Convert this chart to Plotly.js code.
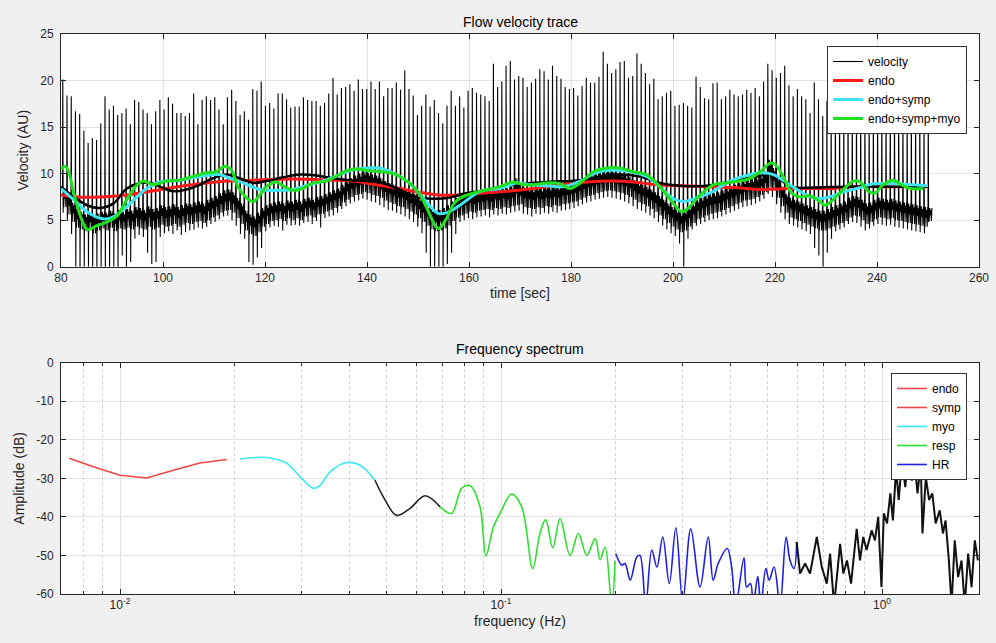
<!DOCTYPE html>
<html><head><meta charset="utf-8">
<script src="https://cdn.plot.ly/plotly-3.0.1.min.js"></script>
<style>html,body{margin:0;padding:0;background:#f0f0f0}#chart{width:996px;height:643px}</style>
</head><body><div id="chart"></div>
<script>
// ---------- Top panel: flow velocity trace ----------
// per-beat peak velocity (AU)
const beatPeaks = [
20.1,18.4,18.3,16.7,16.4, 14.6,13.3,13.8,13.6,15.4, 18.3,16.9,17.3,16.3,16.5, 17.0,15.3,17.9,17.7,16.9,
16.5,15.3,16.7,17.9,16.9, 18.2,17.5,16.5,16.5,16.2, 16.5,18.6,15.3,17.9,18.3, 17.9,18.2,16.9,15.3,18.2,
19.0,17.8,16.3,16.7,15.8, 19.1,18.9,19.9,17.3,17.6, 17.0,18.6,18.6,18.0,17.1, 17.2,17.2,18.2,17.9,17.8,
17.8,17.3,17.6,18.6,20.3, 18.5,19.2,19.3,19.6,18.9, 20.1,19.1,19.1,19.9,19.1, 19.9,18.3,19.2,19.2,19.8,
19.0,21.1,19.1,18.4,16.3, 17.3,18.5,17.2,17.9,16.5, 15.4,17.3,18.9,17.3,18.3, 17.1,18.9,19.2,18.7,18.5,
18.3,17.8,21.8,19.3,19.9, 21.6,
22.1,20.1,20.5,20.3,19.3, 19.8,20.2,21.2,21.0,20.1, 21.6,20.5,20.2,19.3,19.1, 19.2,18.4,19.4,20.3,19.8,
19.8,20.4,23.1,21.8,20.8, 21.2,22.0,22.1,20.3,20.5, 22.9,21.8,20.8,19.6,20.2, 18.0,18.3,18.7,18.9,17.3,
17.4,17.6,17.3,17.1,20.4, 19.3,18.1,18.0,19.7,19.8, 18.0,18.3,19.0,18.5,18.3, 18.5,19.0,18.7,19.2,18.3,
19.9,21.8,21.1,20.3,20.8, 21.6,19.5,18.3,19.1,18.3, 18.0,16.5,19.8,18.0,16.2,
17.8,17.2,18.4,17.6,16.9, 18.1,17.5,17.0,18.3,17.7, 16.8,17.9,17.4,18.0,17.1, 16.9,17.6,18.2,17.3,16.8,
17.5,17.0,17.7,16.9,17.2
];
// upper edge of the dense noisy band, per beat
const bandTops = [
8.4,7.8,6.9,6.2,5.9, 5.6,5.8,5.5,5.7,5.9, 5.8,6.0,5.7,6.1,5.9, 6.2,6.0,6.4,6.3,6.1,
6.5,6.2,6.3,6.6,6.4, 6.5,6.7,6.4,6.6,6.8, 6.7,6.9,7.0,6.8,7.2, 7.4,7.6,7.9,8.2,8.3,
8.0,7.4,6.8,6.0,5.6, 5.4,5.8,6.3,6.6,6.8, 6.9,7.0,6.8,7.1,7.0, 7.2,7.0,7.3,7.4,7.2,
7.5,7.6,7.8,8.0,8.2, 8.4,8.8,9.2,9.5,9.8, 10.0,10.2,10.1,9.9,9.8, 9.5,9.2,9.0,8.8,8.6,
8.5,8.3,8.0,7.8,7.4, 7.0,6.6,6.2,6.0,6.1, 6.3,6.6,7.0,7.4,7.6, 7.8,8.0,7.9,8.1,8.2,
8.3,8.2,8.4,8.3,8.5, 8.4,8.6,9.5,8.8,8.5, 8.4,8.3,8.5,8.4,8.6, 8.5,8.7,8.6,8.8,8.9,
9.0,9.1,9.3,9.5,9.7, 9.8,10.0,10.1,10.2,10.3, 10.2,10.1,10.0,9.8,9.6, 9.3,9.0,8.8,8.6,8.3,
8.0,7.6,7.2,6.8,6.4, 6.1,5.8,6.0,6.4,6.8, 7.2,7.4,7.6,7.8,7.9, 8.0,8.2,8.4,8.6,8.8,
9.0,9.2,9.3,9.4,9.6, 9.8,10.2,11.5,10.6,9.6, 8.6,7.8,7.4,7.2,7.0, 6.8,6.6,6.4,6.2,6.0,
6.0,6.2,6.4,6.6,6.8, 7.0,7.4,7.6,7.5,7.2, 6.8,6.9,7.2,7.4,7.3, 7.2,7.3,7.1,7.0,6.9,
6.8,6.7,6.6,6.5,6.4,6.3
];
// lower edge of the dense band, per beat
const bandLows = [
6.4,5.6,4.8,4.2,4.0, 3.8,4.0,3.6,3.9,4.1, 3.9,4.2,3.8,4.1,4.0, 4.2,4.0,4.3,4.1,4.0,
4.3,4.0,4.2,4.5,4.3, 4.4,4.6,4.3,4.5,4.7, 4.6,4.8,4.9,4.7,5.0, 5.3,5.5,5.8,6.0,6.1,
5.8,5.2,4.6,3.9,3.5, 3.3,3.7,4.3,4.6,4.9, 5.0,5.1,4.9,5.2,5.0, 5.2,5.0,5.4,5.5,5.3,
5.6,5.7,5.9,6.1,6.3, 6.5,6.9,7.2,7.5,7.7, 7.8,8.0,7.9,7.7,7.6, 7.4,7.1,6.9,6.7,6.5,
6.4,6.2,5.9,5.6,5.2, 4.8,4.4,4.0,3.8,3.9, 4.1,4.4,4.9,5.3,5.5, 5.7,5.9,5.8,6.0,6.1,
6.2,6.1,6.3,6.2,6.4, 6.3,6.5,6.6,6.7,6.4, 6.3,6.2,6.4,6.3,6.5, 6.4,6.6,6.5,6.7,6.8,
6.9,7.0,7.2,7.4,7.6, 7.7,7.9,8.0,8.1,8.2, 8.1,8.0,7.9,7.7,7.5, 7.2,6.9,6.7,6.5,6.2,
5.9,5.5,5.1,4.7,4.3, 4.0,3.7,3.9,4.3,4.7, 5.1,5.3,5.5,5.7,5.8, 5.9,6.1,6.3,6.5,6.7,
6.9,7.1,7.2,7.3,7.5, 7.7,8.0,8.5,8.2,7.4, 6.5,5.8,5.3,5.1,4.9, 4.7,4.5,4.3,4.1,3.9,
3.9,4.1,4.3,4.5,4.7, 4.9,5.3,5.5,5.4,5.0, 4.6,4.8,5.1,5.3,5.2, 5.1,5.2,5.0,4.9,4.8,
4.7,4.6,4.5,4.4,4.3,4.9
];
// deepest point of each beat (signal dropouts go to 0)
const beatFloors = [
5.8,4.9,3.5,0.0,0.0, 0.0,0.0,0.0,0.0,0.0, 0.0,0.0,0.0,0.0,1.2, 0.0,0.5,3.0,3.4,3.2,
1.5,0.3,0.5,3.2,3.6, 3.8,3.5,3.9,3.4,3.7, 3.9,4.0,4.2,4.1,4.3, 4.6,4.8,5.1,5.4,5.5,
5.0,4.4,3.5,3.0,0.5, 0.2,1.0,2.0,3.8,4.2, 4.4,4.3,3.9,4.5,4.4, 4.5,4.4,4.7,4.8,4.6,
4.9,4.2,5.2,5.4,5.5, 5.8,6.2,6.5,6.8,7.0, 7.1,7.3,7.2,7.0,6.9, 6.6,6.4,6.1,6.0,5.8,
5.6,5.4,5.1,4.8,4.3, 3.6,1.5,0.0,0.0,0.0, 0.0,0.3,1.5,3.5,4.8, 5.0,5.2,5.1,5.3,5.4,
5.5,5.3,5.6,5.5,5.7, 5.6,5.8,5.9,6.0,5.7, 5.6,5.4,5.7,5.6,5.8, 5.7,5.9,5.8,6.0,6.1,
6.2,6.3,6.5,6.7,6.9, 7.0,7.2,7.3,7.4,7.5, 7.4,7.3,7.2,7.0,6.8, 6.5,6.2,6.0,5.8,5.5,
5.2,4.8,4.4,4.0,3.6, 3.3,2.5,0.0,3.0,4.0, 4.4,4.6,4.8,5.0,5.1, 5.2,5.4,5.6,5.8,6.0,
6.2,6.4,6.5,6.6,6.8, 7.0,7.3,7.8,7.5,6.7, 5.8,5.1,4.6,4.4,4.2, 4.0,3.8,3.5,2.0,1.2,
0.0,1.5,3.0,3.8,4.0, 4.2,4.6,4.8,4.7,4.3, 3.9,4.1,4.4,4.6,4.5, 4.4,4.5,4.3,4.2,4.1,
4.0,3.9,3.8,3.7,3.6,4.8
];
const firstBeatTime = 80.3, lastBeatTime = 250.0;

const endoT = [80,83.1,87.7,92.9,97.5,102,107.2,112.4,117.7,122.9,128.1,133.3,137.2,141.8,146.3,150.2,154.1,158,162.2,167.4,172.6,177.8,183.1,188.3,192.2,196.8,201.4,206.6,211.8,217.7,222.3,227.5,231.4,235.4,240.6,245,250];
const endoV = [7.7,7.5,7.5,7.7,8.1,8.5,8.9,9.2,9.3,9.4,9.4,9.3,9.2,8.8,8.4,8.0,7.7,7.7,7.9,8.1,8.4,8.8,9.1,9.2,9.1,8.8,8.7,8.6,8.5,8.3,8.4,8.4,8.4,8.6,8.6,8.6,8.6];

const sympT = [80,82.5,85.1,87.7,89.6,92.2,94.9,96.8,99.4,103.3,107.2,111.1,113.1,115.7,119,122.2,125.5,128.7,132,134.6,137.2,139.8,142.4,145,147.6,150.2,152.2,154.1,156.1,158.7,162.2,166.1,169.4,172,175.2,178.5,181.8,185,188.3,191.6,194.8,197.4,200.1,202,204.6,207.9,211.2,214.4,217.1,219.7,222.3,224.9,227.5,230.1,232.8,236,239.3,243.2,247.1,250];
const sympV = [8.4,7.2,5.9,5.2,5.2,6.1,7.5,8.4,9.1,9.3,9.7,9.9,9.5,9.0,8.3,8.2,8.3,8.8,9.3,9.9,10.4,10.6,10.6,10.1,9.3,7.9,6.6,5.7,5.9,6.8,8.1,8.4,9.0,8.8,8.7,8.6,9.2,10.1,10.4,10.2,9.7,8.6,7.3,7.0,7.4,8.1,9.2,9.8,10.1,9.9,9.0,8.1,7.4,7.4,7.9,8.4,8.9,8.9,8.8,8.7];

const myoT = [80,80.8,81.5,82.5,84.1,85.2,87,89,90.9,92.9,94.9,96.2,98.1,100.7,103.3,105.9,108.5,110.5,112.1,113.4,114.7,116.4,117.7,119,120.3,122.2,123.8,125.5,127.4,129.4,132,133.9,135.9,137.9,140.5,143.1,145.7,148.3,150.2,151.9,153.5,154.1,155.4,157.1,158.7,162.2,166.1,168.7,170.7,172.6,175.2,177.9,179.8,181.8,184.4,187,189.6,192.2,194.8,197.4,200.1,201.7,203,205.3,207.9,210.5,213.1,215.1,217.1,219,220,221.6,223.3,224.9,226.9,228.8,229.8,231.4,233.4,235.4,236.7,238.3,239.6,241.2,243.2,244.8,246.5,249.1];
const myoV = [10.4,10.8,10.2,7.9,5.0,4.0,4.4,4.8,5.4,7.2,8.8,9.2,8.8,9.2,9.3,9.7,10.1,10.2,10.8,10.4,8.6,7.4,7.0,7.7,8.6,9.1,8.6,8.2,8.4,9.0,9.2,9.7,10.3,10.5,10.3,10.2,9.9,9.0,7.9,6.1,4.3,4.1,5.0,6.8,7.5,8.1,8.6,9.1,8.8,8.8,9.0,8.9,8.4,9.0,10.2,10.6,10.6,10.2,9.9,8.6,6.8,5.9,6.3,7.7,8.8,9.0,9.2,9.5,10.2,11.1,11.0,9.7,7.9,7.5,7.6,7.0,6.6,7.2,8.3,9.2,9.1,8.1,7.9,8.8,9.3,8.8,8.4,8.4];

const meanT = [80,82.5,85.1,87.7,90.3,92.9,95.5,97.5,99.4,102,104.6,107.2,109.8,112.4,115,117.7,120.3,123.5,126.8,130,133.3,136.5,139.8,143.1,146.3,149.6,152.8,156.1,159.3,163.3,168.7,175.2,181.8,188.3,193.5,197.4,201.4,206.6,211.8,216.4,219.7,223,227.5,234,240.6,250];
const meanV = [8.6,7.5,6.6,6.3,6.8,8.4,9.0,9.0,8.6,8.1,8.3,8.8,9.5,9.9,9.5,9.0,9.2,9.6,9.9,9.8,9.5,9.3,9.2,9.0,8.3,7.5,7.3,7.4,7.9,8.2,8.8,9.1,9.3,9.9,9.7,9.0,8.7,8.7,9.2,9.7,9.9,8.6,8.5,8.6,8.6,8.6];

// ---------- Bottom panel: frequency spectrum ----------
const endoF = [0.00736,0.00851,0.0100,0.01175,0.0138,0.0162,0.01905];
const endoDB = [-24.8,-27.0,-29.2,-29.9,-27.9,-26.0,-25.1];
const myoF = [0.02065,0.0243,0.0274,0.0297,0.0322,0.0335,0.0356,0.0394,0.0427,0.0467];
const myoDB = [-25.0,-24.6,-26.1,-29.6,-32.6,-31.8,-28.3,-25.9,-26.6,-30.5];
const gapF = [0.0467,0.0491,0.0532,0.0577,0.0632,0.0692];
const gapDB = [-30.5,-34.8,-39.6,-37.8,-34.5,-37.4];
const respF = [0.0692,0.0742,0.0788,0.0830,0.0881,0.0913,0.0955,0.0994,0.1066,0.1133,0.1211,0.1265,0.1310,0.1367,0.1429,0.1518,0.1596,0.1679,0.1766,0.1820,0.1876,0.1953,0.1992];
const respDB = [-37.4,-39.1,-32.6,-31.9,-37.4,-50.1,-42.6,-39.1,-34.1,-37.4,-53.4,-44.3,-40.7,-48.0,-40.4,-50.0,-44.3,-50.0,-45.7,-51.1,-47.8,-63,-51.3];
const hrF = [0.2000,0.2075,0.2116,0.2183,0.2272,0.2316,0.2397,0.2487,0.2565,0.2658,0.2765,0.2877,0.2999,0.3148,0.3330,0.3498,0.3605,0.3715,0.3924,0.4030,0.4128,0.4343,0.4414,0.4518,0.4589,0.4720,0.4806,0.4955,0.5055,0.5209,0.5399,0.5600,0.5736,0.5876,0.5971];
const hrDB = [-49.5,-52.5,-52.1,-56.4,-50.4,-50.0,-63,-48.6,-53.0,-45.2,-57.3,-42.8,-62,-43.1,-58.2,-45.2,-56.4,-52.1,-48.2,-53.0,-63,-50.6,-58.2,-57.3,-63,-55.4,-63,-53.4,-56.4,-53.0,-63,-45.2,-51.3,-53.4,-46.5];
const cardF = [0.5971,0.6095,0.6281,0.6473,0.6742,0.6950,0.7162,0.7306,0.7485,0.7762,0.7916,0.8093,0.8293,0.8580,0.8753,0.8930,0.9109,0.9395,0.9581,0.9773,0.9966,1.0108,1.0310,1.0516,1.068,1.089,1.106,1.128,1.151,1.174,1.198,1.215,1.239,1.264,1.277,1.303,1.329,1.355,1.383,1.417,1.445,1.468,1.498,1.522,1.552,1.584,1.617,1.649,1.683,1.718,1.752,1.785];
const cardDB = [-46.5,-54.7,-52.1,-54.7,-45.2,-53.0,-57.3,-49.5,-63,-47.0,-54.7,-51.3,-57.3,-43.1,-51.3,-45.2,-48.6,-43.5,-46.1,-40.0,-58.2,-39.1,-41.7,-33.9,-40.9,-27.4,-35.6,-25.4,-32.3,-22.7,-30.6,-24.6,-33.9,-26.2,-44.3,-29.7,-35.6,-33.9,-41.7,-38.3,-44.3,-40.9,-51.3,-63,-46.1,-55.6,-51.3,-63,-49.5,-58.2,-46.1,-51.3];

const topXTicks = [80,100,120,140,160,180,200,220,240,260];
const topYTicks = [0,5,10,15,20,25];
const dbTickVals = [0,-10,-20,-30,-40,-50,-60];
const dbTickText = ['0','-10','-20','-30','-40','-50','-60'];
const logTickVals = [0.01,0.1,1];
const logTickText = ['10<sup>-2</sup>','10<sup>-1</sup>','10<sup>0</sup>'];

// build the velocity waveform from the per-beat readings:
// systolic spike, then a ragged noisy band between the band's lower and upper edge
const nBeats = beatPeaks.length;
const rr = (lastBeatTime - firstBeatTime) / (nBeats - 1);
const bandPhases = [0.24, 0.34, 0.45, 0.55, 0.67, 0.77];
const bandLevels = [0, 1, 0.45, 0.85, 0, 1];   // fraction of the band height at each phase
const velX = [], velY = [];
for (let i = 0; i < nBeats; i++) {
  const t = firstBeatTime + i * rr;
  velX.push(t, t + 0.05, t + 0.12, t + 0.16);
  velY.push(bandTops[i], beatPeaks[i], beatFloors[i], bandTops[i]);
  bandPhases.forEach((p, k) => {
    velX.push(t + p);
    velY.push(bandLows[i] + bandLevels[k] * (bandTops[i] - bandLows[i]));
  });
}

const minorVals = [];
[0.001,0.01,0.1,1].forEach(d => { for (let k = 2; k <= 9; k++) minorVals.push(d * k); });

const RED = '#ff1a1a', CYAN = '#3fe4f2', GREEN = '#1fe01f';
const traces = [
  {x: velX, y: velY, name: 'velocity', mode: 'lines', line: {color: '#000', width: 1.1, simplify: false}, xaxis: 'x', yaxis: 'y', legend: 'legend'},
  {x: endoT, y: endoV, name: 'endo', mode: 'lines', line: {color: RED, width: 3, shape: 'spline'}, xaxis: 'x', yaxis: 'y', legend: 'legend'},
  {x: meanT, y: meanV, name: 'mean', showlegend: false, mode: 'lines', line: {color: '#000', width: 2.5, shape: 'spline'}, xaxis: 'x', yaxis: 'y'},
  {x: sympT, y: sympV, name: 'endo+symp', mode: 'lines', line: {color: CYAN, width: 3, shape: 'spline'}, xaxis: 'x', yaxis: 'y', legend: 'legend'},
  {x: myoT, y: myoV, name: 'endo+symp+myo', mode: 'lines', line: {color: GREEN, width: 3, shape: 'spline'}, xaxis: 'x', yaxis: 'y', legend: 'legend'},

  {x: endoF, y: endoDB, name: 'endo', mode: 'lines', line: {color: '#f04545', width: 1.6}, xaxis: 'x2', yaxis: 'y2', legend: 'legend2'},
  {x: [null], y: [null], name: 'symp', mode: 'lines', line: {color: '#f04545', width: 1.6}, xaxis: 'x2', yaxis: 'y2', legend: 'legend2'},
  {x: myoF, y: myoDB, name: 'myo', mode: 'lines', line: {color: '#3ee8f2', width: 1.6, shape: 'spline'}, xaxis: 'x2', yaxis: 'y2', legend: 'legend2'},
  {x: gapF, y: gapDB, name: 'other', showlegend: false, mode: 'lines', line: {color: '#222', width: 1.6, shape: 'spline'}, xaxis: 'x2', yaxis: 'y2'},
  {x: respF, y: respDB, name: 'resp', mode: 'lines', line: {color: '#2ee02e', width: 1.6, shape: 'spline'}, xaxis: 'x2', yaxis: 'y2', legend: 'legend2'},
  {x: hrF, y: hrDB, name: 'HR', mode: 'lines', line: {color: '#2020e0', width: 1.6, shape: 'spline'}, xaxis: 'x2', yaxis: 'y2', legend: 'legend2'},
  {x: cardF, y: cardDB, name: 'cardiac', showlegend: false, mode: 'lines', line: {color: '#111', width: 2}, xaxis: 'x2', yaxis: 'y2'}
];

const FONT = 'Liberation Sans, Arial, sans-serif';
const axisBase = {
  showline: true, mirror: 'ticks', linecolor: '#262626', linewidth: 1,
  ticks: 'inside', ticklen: 5, tickcolor: '#262626',
  gridcolor: '#e2e2e2', zeroline: false,
  tickfont: {family: FONT, size: 12, color: '#262626'}
};
const xDom = [61/996, 979/996];
const layout = {
  width: 996, height: 643,
  paper_bgcolor: '#f0f0f0', plot_bgcolor: '#ffffff',
  margin: {l: 0, r: 0, t: 0, b: 0},
  font: {family: FONT, color: '#262626'},
  xaxis: Object.assign({}, axisBase, {domain: xDom, range: [80, 260], tickmode: 'array', tickvals: topXTicks, anchor: 'y',
    title: {text: 'time [sec]', font: {size: 14, color: '#262626'}, standoff: 4}}),
  yaxis: Object.assign({}, axisBase, {domain: [(643-266.7)/643, (643-34)/643], range: [0, 25], tickmode: 'array', tickvals: topYTicks, anchor: 'x',
    ticklabelstandoff: 4,
    title: {text: 'Velocity (AU)', font: {size: 14, color: '#262626'}, standoff: 8}}),
  xaxis2: Object.assign({}, axisBase, {domain: xDom, type: 'log', range: [Math.log10(0.0070), Math.log10(1.797)], anchor: 'y2',
    tickmode: 'array', tickvals: logTickVals, ticktext: logTickText,
    minor: {tickmode: 'array', tickvals: minorVals, ticks: 'inside', ticklen: 3, tickcolor: '#262626', showgrid: true, gridcolor: '#cfcfcf', griddash: 'dot', gridwidth: 1},
    title: {text: 'frequency (Hz)', font: {size: 14, color: '#262626'}, standoff: 4}}),
  yaxis2: Object.assign({}, axisBase, {domain: [(643-594)/643, (643-362.7)/643], range: [-60, 0], tickmode: 'array', tickvals: dbTickVals, ticktext: dbTickText, anchor: 'x2',
    ticklabelstandoff: 4,
    title: {text: 'Amplitude (dB)', font: {size: 14, color: '#262626'}, standoff: 8}}),
  legend: {x: 967/996, y: (643-46)/643, xanchor: 'right', yanchor: 'top', bgcolor: '#ffffff', bordercolor: '#333', borderwidth: 1,
    font: {family: FONT, size: 12, color: '#000'}, tracegroupgap: 0},
  legend2: {x: 967/996, y: (643-373)/643, xanchor: 'right', yanchor: 'top', bgcolor: '#ffffff', bordercolor: '#333', borderwidth: 1,
    font: {family: FONT, size: 12, color: '#000'}, tracegroupgap: 0},
  annotations: [
    {text: 'Flow velocity trace', xref: 'paper', yref: 'paper', x: 520/996, y: (643-22)/643, xanchor: 'center', yanchor: 'middle', showarrow: false, font: {size: 14, color: '#000'}},
    {text: 'Frequency spectrum', xref: 'paper', yref: 'paper', x: 520/996, y: (643-349)/643, xanchor: 'center', yanchor: 'middle', showarrow: false, font: {size: 14, color: '#000'}}
  ],
  showlegend: true
};
Plotly.newPlot('chart', traces, layout, {staticPlot: true, displayModeBar: false});
</script></body></html>
